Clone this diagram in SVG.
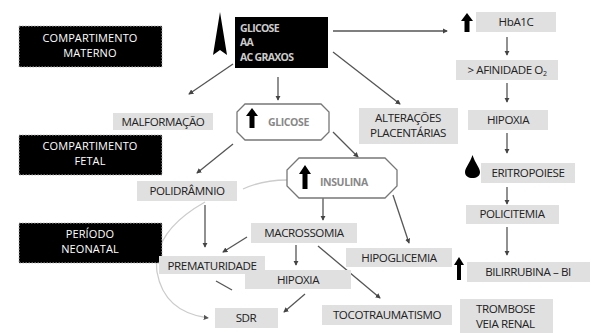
<svg xmlns="http://www.w3.org/2000/svg" width="592" height="333" viewBox="0 0 592 333">
<defs>
<marker id="ah" viewBox="0 0 6 6" refX="5" refY="3" markerWidth="4" markerHeight="4" orient="auto"><path d="M0,0 L6,3 L0,6 Z" fill="#444"/></marker>
<marker id="ahl" viewBox="0 0 6 6" refX="5" refY="3" markerWidth="4" markerHeight="4" orient="auto"><path d="M0,0 L6,3 L0,6 Z" fill="#555"/></marker>
</defs>
<style>
.bk{fill:#000;stroke:#bbb;stroke-width:1;stroke-dasharray:1.5 1.5}
.bt{fill:#fff;font-family:"Open Sans","Liberation Sans",sans-serif;font-size:11px;text-anchor:middle;letter-spacing:0.1px}
.g{fill:#e0e0e0}
.t{fill:#222;font-family:"Open Sans","Liberation Sans",sans-serif;font-size:11.6px;text-anchor:middle;letter-spacing:-0.4px}
.ts{fill:#222;font-family:"Open Sans","Liberation Sans",sans-serif;font-size:11.6px;letter-spacing:-0.4px}
.oc{fill:#fff;stroke:#777;stroke-width:1.3}
.ot{fill:#888;font-family:"Open Sans","Liberation Sans",sans-serif;font-size:10.5px;font-weight:bold;letter-spacing:-0.4px}
.wt{fill:#ccc;font-family:"Open Sans","Liberation Sans",sans-serif;font-size:10.5px;font-weight:bold;letter-spacing:-0.7px}
.c{stroke:#555;stroke-width:1.3;fill:none;marker-end:url(#ah)}
.cl{stroke:#ccc;stroke-width:1.3;fill:none}
.ar{fill:#000}
</style>
<g id="connectors">
<line class="c" x1="233" y1="64" x2="189" y2="94"/>
<line class="c" x1="333" y1="31" x2="447" y2="31"/>
<line class="c" x1="333" y1="52" x2="400" y2="104"/>
<line class="c" x1="278" y1="77" x2="278" y2="100"/>
<line class="c" x1="507" y1="37" x2="507" y2="55"/>
<line class="c" x1="507" y1="83" x2="507" y2="102"/>
<line class="c" x1="507" y1="133" x2="507" y2="153"/>
<line class="c" x1="507" y1="187" x2="507" y2="204"/>
<line class="c" x1="507" y1="227" x2="507" y2="255"/>
<line class="c" x1="233" y1="144" x2="197" y2="173"/>
<line class="c" x1="333" y1="132" x2="358" y2="157"/>
<line class="c" x1="393" y1="195" x2="409" y2="243"/>
<line class="c" x1="323" y1="198" x2="323" y2="220"/>
<line class="c" x1="205" y1="205" x2="205" y2="247"/>
<line class="c" x1="247" y1="237" x2="223" y2="252"/>
<line class="c" x1="296" y1="245" x2="296" y2="265"/>
<line class="c" x1="318" y1="246" x2="380" y2="298"/>
<line x1="216" y1="281" x2="232" y2="290" stroke="#555" stroke-width="1.3"/>
<line class="c" x1="305" y1="294" x2="284" y2="312"/>
<path class="cl" d="M243,189 Q262,180 287,180"/>
<path class="cl" d="M205,202 Q152,232 157,272 Q164,312 208,318" marker-end="url(#ahl)"/>
</g>
<g id="compartimento-materno"><rect class="bk" x="19" y="26" width="143" height="41"/><text class="bt" x="90" y="42">COMPARTIMENTO</text><text class="bt" x="90" y="57">MATERNO</text></g>
<g id="compartimento-fetal"><rect class="bk" x="19" y="135" width="143" height="40"/><text class="bt" x="90" y="150">COMPARTIMENTO</text><text class="bt" x="90" y="165">FETAL</text></g>
<g id="periodo-neonatal"><rect class="bk" x="19" y="223" width="143" height="40"/><text class="bt" x="90" y="238">PERÍODO</text><text class="bt" x="90" y="253">NEONATAL</text></g>
<g id="glicose-materna">
<path class="ar" d="M220,12 L227,55 L220,50 L213,55 Z"/>
<rect x="235" y="17" width="93" height="51" fill="#000"/>
<text class="wt" x="240" y="32">GLICOSE</text>
<text class="wt" x="240" y="46">AA</text>
<text class="wt" x="240" y="61">AC GRAXOS</text>
</g>
<g id="hba1c"><path class="ar" d="M467,13 L473,21 L469.5,21 L469.5,32 L464.5,32 L464.5,21 L461,21 Z"/><rect class="g" x="476" y="12" width="80" height="20"/><text class="t" x="516" y="26">HbA1C</text></g>
<g id="afinidade"><rect class="g" x="456" y="60" width="102" height="20"/><text class="t" x="507" y="74">&gt; AFINIDADE O<tspan font-size="7" dy="2">2</tspan></text></g>
<g id="hipoxia-direita"><rect class="g" x="468" y="110" width="80" height="20"/><text class="t" x="508" y="124">HIPOXIA</text></g>
<g id="alteracoes"><rect class="g" x="359" y="108" width="99" height="36"/><text class="t" x="408" y="122">ALTERAÇÕES</text><text class="t" x="408" y="137">PLACENTÁRIAS</text></g>
<g id="eritropoiese"><path class="ar" d="M472.5,155 C475,163 480,168 480,172 C480,176 476.5,178 472.5,178 C468.5,178 465,176 465,172 C465,168 470,163 472.5,155 Z"/><rect class="g" x="481" y="163" width="94" height="20"/><text class="t" x="528" y="177">ERITROPOIESE</text></g>
<g id="policitemia"><rect class="g" x="466" y="205" width="93" height="19"/><text class="t" x="512" y="218">POLICITEMIA</text></g>
<g id="bilirrubina"><path class="ar" d="M459,257 L464,265 L461,265 L461,280 L457,280 L457,265 L454,265 Z"/><rect class="g" x="467" y="262" width="123" height="20"/><text class="t" x="528" y="276">BILIRRUBINA – BI</text></g>
<g id="trombose"><rect class="g" x="460" y="299" width="93" height="34"/><text class="ts" x="476" y="313">TROMBOSE</text><text class="ts" x="476" y="328">VEIA RENAL</text></g>
<g id="malformacao"><rect class="g" x="113" y="113" width="100" height="17"/><text class="t" x="163" y="126">MALFORMAÇÃO</text></g>
<g id="glicose-fetal"><path class="oc" d="M245,104 L321,104 L329,112 L329,132 L321,140 L245,140 L237,132 L237,112 Z"/><path class="ar" d="M252,108 L258,116 L254.5,116 L254.5,128 L249.5,128 L249.5,116 L246,116 Z"/><text class="ot" x="268" y="126">GLICOSE</text></g>
<g id="insulina"><path class="oc" d="M299,158 L385,158 L397,170 L397,186 L385,198 L299,198 L287,186 L287,170 Z"/><path class="ar" d="M305,165 L311,174 L307.5,174 L307.5,189 L302.5,189 L302.5,174 L299,174 Z"/><text class="ot" x="320" y="186">INSULINA</text></g>
<g id="polidramnio"><rect class="g" x="137" y="181" width="100" height="20"/><text class="t" x="187" y="195">POLIDRÂMNIO</text></g>
<g id="macrossomia"><rect class="g" x="251" y="223" width="106" height="20"/><text class="t" x="304" y="237">MACROSSOMIA</text></g>
<g id="hipoglicemia"><rect class="g" x="346" y="248" width="106" height="19"/><text class="t" x="399" y="262">HIPOGLICEMIA</text></g>
<g id="prematuridade"><rect class="g" x="159" y="256" width="106" height="18"/><text class="t" x="212" y="270">PREMATURIDADE</text></g>
<g id="hipoxia-centro"><rect class="g" x="245" y="270" width="106" height="19"/><text class="t" x="298" y="284">HIPOXIA</text></g>
<g id="tocotraumatismo"><rect class="g" x="322" y="305" width="130" height="20"/><text class="t" x="387" y="319">TOCOTRAUMATISMO</text></g>
<g id="sdr"><rect class="g" x="215" y="308" width="63" height="20"/><text class="t" x="246" y="322">SDR</text></g>
</svg>
